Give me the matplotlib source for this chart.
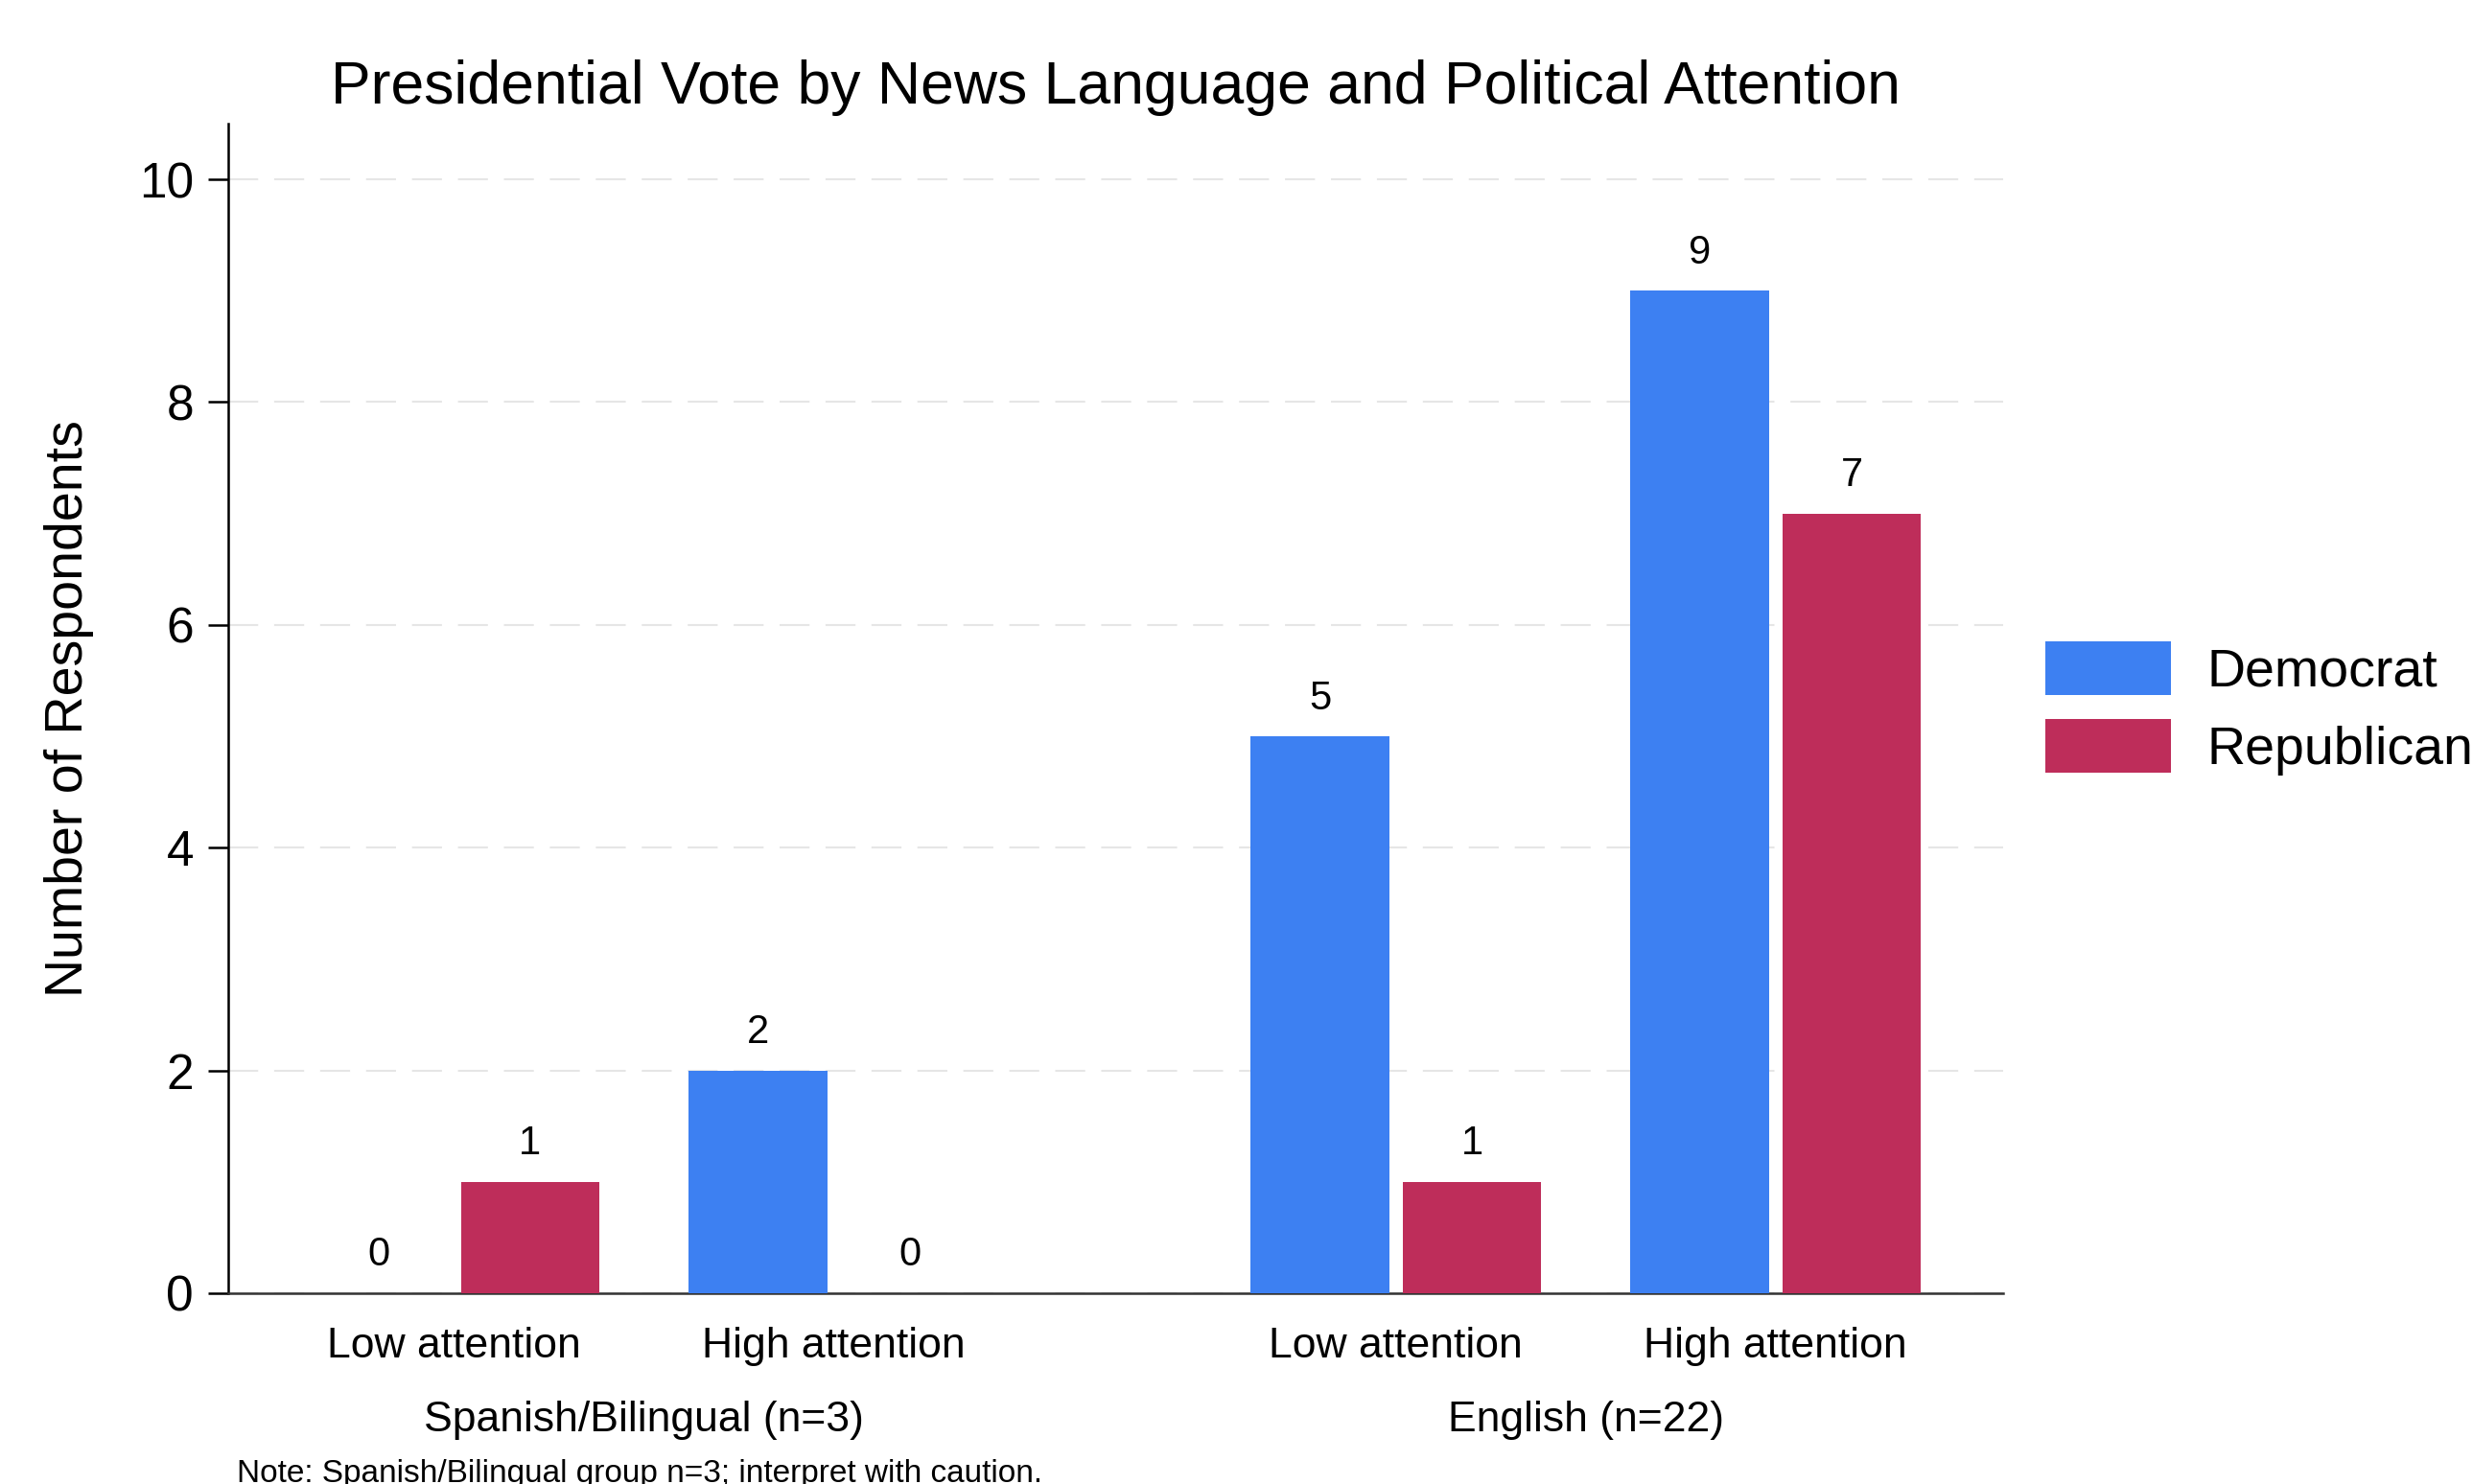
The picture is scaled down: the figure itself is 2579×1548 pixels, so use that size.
from matplotlib import pyplot as plt
from matplotlib.patches import Patch

plt.rcParams['font.family'] = ['Liberation Sans', 'DejaVu Sans']

ATTENTION_LABELS = ['Low attention', 'High attention', 'Low attention', 'High attention']
GROUP_LABELS = ['Spanish/Bilingual (n=3)', 'English (n=22)']
PARTIES = ['Democrat', 'Republican']

democrat_counts = [0, 2, 5, 9]
republican_counts = [1, 0, 1, 7]

BLUE = '#3d80f2'
RED = '#be2d5a'

# two groups of two attention levels, with a wider gap between language groups
positions = [0, 1, 2.48, 3.48]
group_centers = [0.5, 2.98]
offset = 0.2
width = 0.365

fig = plt.figure(figsize=(25.79, 15.48), dpi=100)
ax = fig.add_axes([0.0923, 0.1286, 0.7177, 0.7881])

dem_x = [p - offset for p in positions]
rep_x = [p + offset for p in positions]
dem_bars = ax.bar(dem_x, democrat_counts, width, color=BLUE, zorder=3)
rep_bars = ax.bar(rep_x, republican_counts, width, color=RED, zorder=3)

for bars, counts in [(dem_bars, democrat_counts), (rep_bars, republican_counts)]:
  for bar, count in zip(bars, counts):
    ax.annotate(str(count), (bar.get_x() + bar.get_width() / 2, count),
                xytext=(0, 14), textcoords='offset points',
                ha='center', va='bottom', fontsize=30)

ax.set_xlim(-0.595, 4.079)
ax.set_ylim(0, 10.5)
ax.set_yticks([0, 2, 4, 6, 8, 10])
ax.set_xticks(positions)
ax.set_xticklabels(ATTENTION_LABELS)

ax.tick_params(axis='x', length=0, pad=25, labelsize=32)
ax.tick_params(axis='y', length=15, width=1.8, pad=11, labelsize=37)

for name in ['top', 'right']:
  ax.spines[name].set_visible(False)
ax.spines['left'].set_linewidth(1.8)
ax.spines['bottom'].set_linewidth(1.8)
ax.spines['bottom'].set_color('#333333')

ax.yaxis.grid(True, color='#e6e6e6', linewidth=1.5, linestyle=(0, (15, 8)), zorder=0)
ax.set_axisbelow(True)

for center, label in zip(group_centers, GROUP_LABELS):
  ax.text(center, -0.1185, label, transform=ax.get_xaxis_transform(),
          ha='center', va='baseline', fontsize=32)

ax.set_ylabel('Number of Respondents', fontsize=40)
ax.yaxis.set_label_coords(-0.0756, 0.5)

ax.set_title('Presidential Vote by News Language and Political Attention',
             fontsize=45, pad=15)

handles = [Patch(facecolor=BLUE, edgecolor='none'), Patch(facecolor=RED, edgecolor='none')]
ax.legend(handles, PARTIES, loc='center left', bbox_to_anchor=(1.0238, 0.5),
          frameon=False, fontsize=40, borderpad=0, borderaxespad=0,
          handlelength=2.36, handleheight=1.16, handletextpad=0.68,
          labelspacing=0.4)

fig.text(0.0958, 0.0013, 'Note: Spanish/Bilingual group n=3; interpret with caution.',
         ha='left', va='baseline', fontsize=24)

plt.savefig('out.png', dpi=100)
